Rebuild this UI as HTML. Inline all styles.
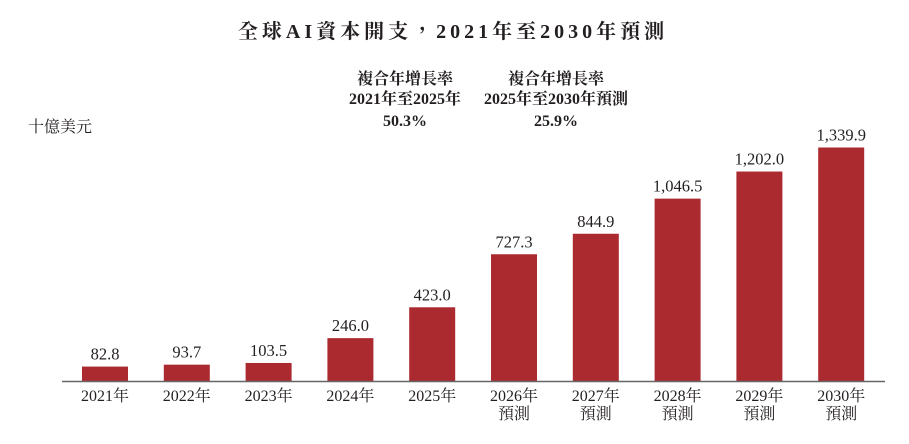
<!DOCTYPE html>
<html><head><meta charset="utf-8"><style>
body{margin:0;background:#fff;width:909px;height:439px;overflow:hidden}
svg text{font-family:"Liberation Serif","Noto Serif CJK TC","Noto Serif CJK SC",serif;fill:#231f20}
</style></head><body>
<svg id="chart" width="909" height="439" viewBox="0 0 909 439">
<text x="453" y="38" text-anchor="middle" font-size="20" font-weight="bold" letter-spacing="4">全球AI資本開支，2021年至2030年預測</text>
<text x="28" y="132" font-size="16">十億美元</text>
<g font-weight="bold" font-size="16">
<text x="405" y="84" text-anchor="middle">複合年增長率</text>
<text x="405" y="104" text-anchor="middle">2021年至2025年</text>
<text x="405" y="126" text-anchor="middle">50.3%</text>
</g>
<g font-weight="bold" font-size="16">
<text x="556" y="84" text-anchor="middle">複合年增長率</text>
<text x="556" y="104" text-anchor="middle">2025年至2030年預測</text>
<text x="556" y="126" text-anchor="middle">25.9%</text>
</g>
<g id="bars"></g>
<line x1="62" y1="381.5" x2="885" y2="381.5" stroke="#666" stroke-width="1.5"/>
</svg>
<script>
const categories=["2021年","2022年","2023年","2024年","2025年","2026年","2027年","2028年","2029年","2030年"];
const forecastFlags=[false,false,false,false,false,true,true,true,true,true];
const values=[82.8,93.7,103.5,246.0,423.0,727.3,844.9,1046.5,1202.0,1339.9];
const valueLabels=["82.8","93.7","103.5","246.0","423.0","727.3","844.9","1,046.5","1,202.0","1,339.9"];
const baseY=381,x0=105,step=81.8,bw=46,k=233.5/1339.9;
const xs=i=>x0+step*i, ys=v=>baseY-v*k;
const g=document.getElementById('bars'),NS="http://www.w3.org/2000/svg";
values.forEach((v,i)=>{
 const r=document.createElementNS(NS,'rect');
 
 
 r.setAttribute('x',xs(i)-bw/2);r.setAttribute('y',ys(v));r.setAttribute('width',bw);r.setAttribute('height',baseY-ys(v));r.setAttribute('fill','#ab2a30');
 g.appendChild(r);
 const t=document.createElementNS(NS,'text');
 
 
 t.setAttribute('x',xs(i));t.setAttribute('y',ys(v)-7);t.setAttribute('text-anchor','middle');t.setAttribute('font-size','16.5');
 t.textContent=valueLabels[i];g.appendChild(t);
 const c=document.createElementNS(NS,'text');
 
 
 c.setAttribute('x',xs(i));c.setAttribute('y',401);c.setAttribute('text-anchor','middle');c.setAttribute('font-size','16');
 c.textContent=categories[i];g.appendChild(c);
 if(forecastFlags[i]){
  const f=document.createElementNS(NS,'text');
  
  
  f.setAttribute('x',xs(i));f.setAttribute('y',419);f.setAttribute('text-anchor','middle');f.setAttribute('font-size','16');
  f.textContent="預測";g.appendChild(f);
 }
});
</script>
</body></html>
